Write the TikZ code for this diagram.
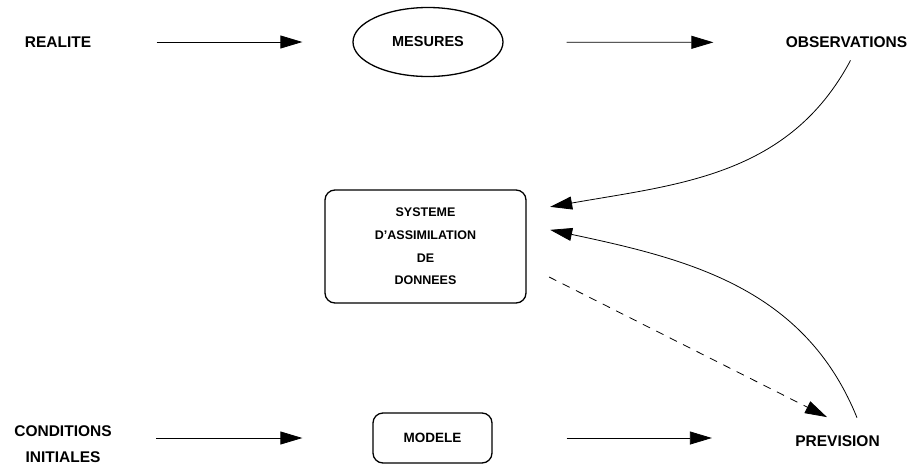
\documentclass[tikz,border=0pt]{standalone}
\usepackage{fontspec}
\setmainfont{Liberation Sans}
\usetikzlibrary{arrows.meta}
\usetikzlibrary{positioning}
\usetikzlibrary{shapes.geometric}

\begin{document}
\begin{tikzpicture}[->,>={Triangle[length=22pt,width=13pt]},line width=0.8pt,
					x=1pt,y=1pt,font=\bfseries\fontsize{15.5}{26}\selectfont]
					\tikzstyle{word}=[inner sep=0pt,align=center]
					\tikzstyle{box}=[draw,line width=1.3pt,rounded corners=10pt,inner sep=0pt,align=center]
					\useasboundingbox (0,0) rectangle (911,-464);
					
					\node[word]          (realite)  at (58,-42)      {REALITE};
					\node[draw,ellipse,line width=1.3pt,minimum width=150pt,minimum height=69pt,
					      inner sep=0pt,font=\bfseries\fontsize{14.5}{17}\selectfont]
					                     (mesures)  at (428,-42)     {MESURES};
					\node[word]          (observ)   at (846.5,-42.5) {OBSERVATIONS};
					\node[box,minimum width=201pt,minimum height=113pt,
					      font=\bfseries\fontsize{12.5}{22.7}\selectfont]
					                     (sys)      at (425.5,-246.5) {SYSTEME\\D’ASSIMILATION\\DE\\DONNEES};
					\node[word]          (cond)     at (63,-444)     {CONDITIONS\\INITIALES};
					\node[box,minimum width=119pt,minimum height=50pt,
					      font=\bfseries\fontsize{13.5}{16}\selectfont]
					                     (modele)   at (432.5,-438)  {MODELE};
					\node[word]          (prev)     at (837.5,-441)  {PREVISION};
					
					\path (realite) edge[shorten <=65pt,shorten >=50pt]  (mesures)
					(mesures) edge[shorten <=63pt,shorten >=72pt]  (observ)
					(cond.east |- modele.west) edge[shorten <=44pt,shorten >=70pt]  (modele.west)
					(modele.east) edge[shorten <=74pt,shorten >=83pt]  (modele.east -| prev.west)
					([shift={(4,-12)}]observ.south) edge[out=-118,in=10]  ([shift={(23.5,-17.5)}]sys.north east)
					([shift={(19.5,17.4)}]prev.north) edge[out=112,in=-12]  ([shift={(23.5,-40.5)}]sys.north east)
					([shift={(22.5,-30.5)}]sys.east) edge[dash pattern=on 8pt off 7pt]  ([shift={(-10.5,18)}]prev.north)
					;
					\end{tikzpicture}
\end{document}
